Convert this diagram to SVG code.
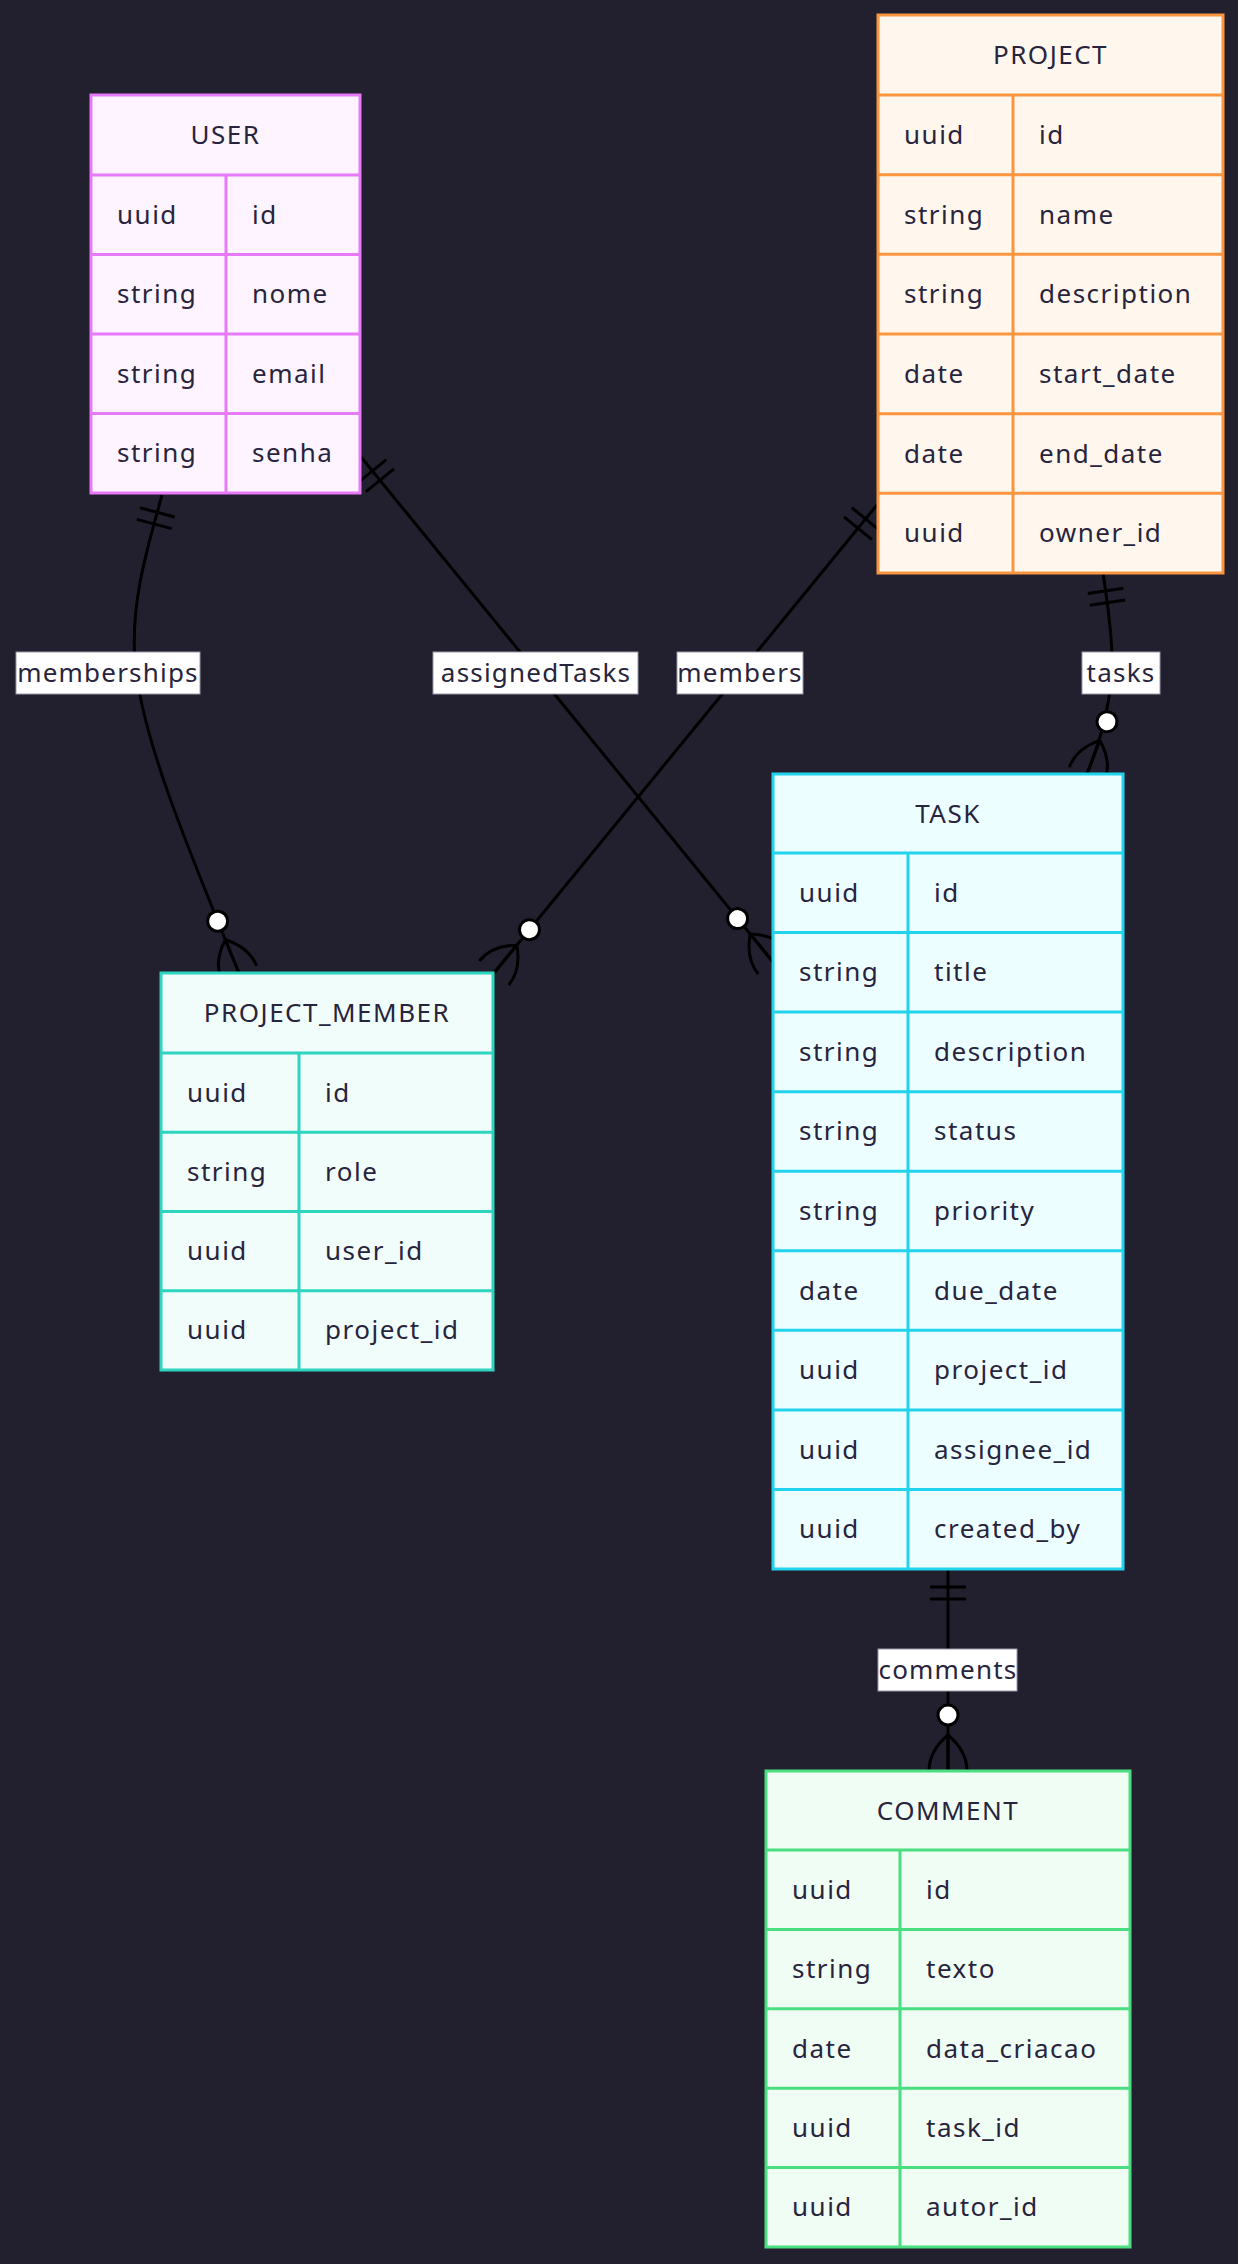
<svg xmlns="http://www.w3.org/2000/svg" width="1238" height="2264" viewBox="0 0 1238 2264">
<style>
  text { font-family: "Noto Sans", "Open Sans", sans-serif; font-size: 26px; fill: #28243d; letter-spacing: 1.5px; }
  .hd { text-anchor: middle; }
  .ent rect, .ent line { stroke-width: 3; }
  .user rect { fill: #fdf4ff; } .user rect, .user line { stroke: #e879f9; }
  .proj rect { fill: #fff7ed; } .proj rect, .proj line { stroke: #fb953f; }
  .task rect { fill: #ecfeff; } .task rect, .task line { stroke: #22d3ee; }
  .pm rect { fill: #f0fdfa; } .pm rect, .pm line { stroke: #2dd4bf; }
  .cmt rect { fill: #f0fdf4; } .cmt rect, .cmt line { stroke: #4ade80; }
  .edge { fill: none; stroke: #000; stroke-width: 3; }
  .lbl rect { fill: #ffffff; stroke: #9a98a8; stroke-width: 1; }
  .lbl text { text-anchor: middle; letter-spacing: 1.2px; }
</style>
<defs>
  <marker id="oneStart" markerUnits="userSpaceOnUse" markerWidth="40" markerHeight="40" refX="0" refY="0" orient="auto" overflow="visible">
    <path d="M18,-18 L18,18 M30,-18 L30,18" fill="none" stroke="#000" stroke-width="3"/>
  </marker>
  <marker id="zeroManyEnd" markerUnits="userSpaceOnUse" markerWidth="80" markerHeight="50" refX="0" refY="0" orient="auto" overflow="visible">
    <path d="M-36,0 Q-20,-19 0,-19 M-36,0 Q-20,19 0,19 M-36,0 L0,0" fill="none" stroke="#000" stroke-width="3"/>
    <circle cx="-56" cy="0" r="10" fill="#fff" stroke="#000" stroke-width="3"/>
  </marker>
</defs>
<rect x="0" y="0" width="1238" height="2264" fill="#22202f"/>

<g id="connectors">
  <path id="e-memberships" class="edge" d="M162,495 C150,540 130,600 135,660 C140,730 180,830 239,973" marker-start="url(#oneStart)" marker-end="url(#zeroManyEnd)"/>
  <path id="e-assignedTasks" class="edge" d="M361,457 L773,962" marker-start="url(#oneStart)" marker-end="url(#zeroManyEnd)"/>
  <path id="e-members" class="edge" d="M877,505 L494,973" marker-start="url(#oneStart)" marker-end="url(#zeroManyEnd)"/>
  <path id="e-tasks" class="edge" d="M1103,573 C1110,620 1115,660 1110,690 C1106,720 1100,740 1087,774" marker-start="url(#oneStart)" marker-end="url(#zeroManyEnd)"/>
  <path id="e-comments" class="edge" d="M948,1569 L948,1771" marker-start="url(#oneStart)" marker-end="url(#zeroManyEnd)"/>
</g>

<g id="edge-labels" class="lbl">
  <rect x="16" y="652" width="184" height="42"/><text x="108" y="682">memberships</text>
  <rect x="433" y="652" width="205" height="42"/><text x="536" y="682">assignedTasks</text>
  <rect x="677" y="652" width="126" height="42"/><text x="740" y="682">members</text>
  <rect x="1082" y="652" width="78" height="42"/><text x="1121" y="682">tasks</text>
  <rect x="878" y="1649" width="139" height="42"/><text x="948" y="1679">comments</text>
</g>

<g id="USER" class="ent user">
  <rect x="91" y="95" width="269" height="398"/>
  <line x1="91" y1="175" x2="360" y2="175"/>
  <line x1="91" y1="254.5" x2="360" y2="254.5"/>
  <line x1="91" y1="334" x2="360" y2="334"/>
  <line x1="91" y1="413.5" x2="360" y2="413.5"/>
  <line x1="226" y1="175" x2="226" y2="493"/>
  <text class="hd" x="225.5" y="144">USER</text>
  <text x="117" y="223.8">uuid</text><text x="252" y="223.8">id</text>
  <text x="117" y="303.3">string</text><text x="252" y="303.3">nome</text>
  <text x="117" y="382.8">string</text><text x="252" y="382.8">email</text>
  <text x="117" y="462.3">string</text><text x="252" y="462.3">senha</text>
</g>

<g id="PROJECT" class="ent proj">
  <rect x="878" y="15" width="345" height="558"/>
  <line x1="878" y1="95" x2="1223" y2="95"/>
  <line x1="878" y1="174.7" x2="1223" y2="174.7"/>
  <line x1="878" y1="254.3" x2="1223" y2="254.3"/>
  <line x1="878" y1="334" x2="1223" y2="334"/>
  <line x1="878" y1="413.7" x2="1223" y2="413.7"/>
  <line x1="878" y1="493.3" x2="1223" y2="493.3"/>
  <line x1="1013" y1="95" x2="1013" y2="573"/>
  <text class="hd" x="1050.5" y="64">PROJECT</text>
  <text x="904" y="143.8">uuid</text><text x="1039" y="143.8">id</text>
  <text x="904" y="223.5">string</text><text x="1039" y="223.5">name</text>
  <text x="904" y="303.2">string</text><text x="1039" y="303.2">description</text>
  <text x="904" y="382.8">date</text><text x="1039" y="382.8">start_date</text>
  <text x="904" y="462.5">date</text><text x="1039" y="462.5">end_date</text>
  <text x="904" y="542.2">uuid</text><text x="1039" y="542.2">owner_id</text>
</g>

<g id="TASK" class="ent task">
  <rect x="773" y="774" width="350" height="795"/>
  <line x1="773" y1="853" x2="1123" y2="853"/>
  <line x1="773" y1="932.6" x2="1123" y2="932.6"/>
  <line x1="773" y1="1012.1" x2="1123" y2="1012.1"/>
  <line x1="773" y1="1091.7" x2="1123" y2="1091.7"/>
  <line x1="773" y1="1171.2" x2="1123" y2="1171.2"/>
  <line x1="773" y1="1250.8" x2="1123" y2="1250.8"/>
  <line x1="773" y1="1330.3" x2="1123" y2="1330.3"/>
  <line x1="773" y1="1409.9" x2="1123" y2="1409.9"/>
  <line x1="773" y1="1489.4" x2="1123" y2="1489.4"/>
  <line x1="908" y1="853" x2="908" y2="1569"/>
  <text class="hd" x="948" y="822.5">TASK</text>
  <text x="799" y="901.8">uuid</text><text x="934" y="901.8">id</text>
  <text x="799" y="981.3">string</text><text x="934" y="981.3">title</text>
  <text x="799" y="1060.9">string</text><text x="934" y="1060.9">description</text>
  <text x="799" y="1140.4">string</text><text x="934" y="1140.4">status</text>
  <text x="799" y="1220">string</text><text x="934" y="1220">priority</text>
  <text x="799" y="1299.6">date</text><text x="934" y="1299.6">due_date</text>
  <text x="799" y="1379.1">uuid</text><text x="934" y="1379.1">project_id</text>
  <text x="799" y="1458.7">uuid</text><text x="934" y="1458.7">assignee_id</text>
  <text x="799" y="1538.2">uuid</text><text x="934" y="1538.2">created_by</text>
</g>

<g id="PROJECT_MEMBER" class="ent pm">
  <rect x="161" y="973" width="332" height="397"/>
  <line x1="161" y1="1053" x2="493" y2="1053"/>
  <line x1="161" y1="1132.3" x2="493" y2="1132.3"/>
  <line x1="161" y1="1211.5" x2="493" y2="1211.5"/>
  <line x1="161" y1="1290.8" x2="493" y2="1290.8"/>
  <line x1="299" y1="1053" x2="299" y2="1370"/>
  <text class="hd" x="327" y="1022">PROJECT_MEMBER</text>
  <text x="187" y="1101.6">uuid</text><text x="325" y="1101.6">id</text>
  <text x="187" y="1180.9">string</text><text x="325" y="1180.9">role</text>
  <text x="187" y="1260.1">uuid</text><text x="325" y="1260.1">user_id</text>
  <text x="187" y="1339.4">uuid</text><text x="325" y="1339.4">project_id</text>
</g>

<g id="COMMENT" class="ent cmt">
  <rect x="766" y="1771" width="364" height="476"/>
  <line x1="766" y1="1850" x2="1130" y2="1850"/>
  <line x1="766" y1="1929.4" x2="1130" y2="1929.4"/>
  <line x1="766" y1="2008.8" x2="1130" y2="2008.8"/>
  <line x1="766" y1="2088.2" x2="1130" y2="2088.2"/>
  <line x1="766" y1="2167.6" x2="1130" y2="2167.6"/>
  <line x1="900" y1="1850" x2="900" y2="2247"/>
  <text class="hd" x="948" y="1819.5">COMMENT</text>
  <text x="792" y="1898.7">uuid</text><text x="926" y="1898.7">id</text>
  <text x="792" y="1978.1">string</text><text x="926" y="1978.1">texto</text>
  <text x="792" y="2057.5">date</text><text x="926" y="2057.5">data_criacao</text>
  <text x="792" y="2136.9">uuid</text><text x="926" y="2136.9">task_id</text>
  <text x="792" y="2216.3">uuid</text><text x="926" y="2216.3">autor_id</text>
</g>
</svg>
